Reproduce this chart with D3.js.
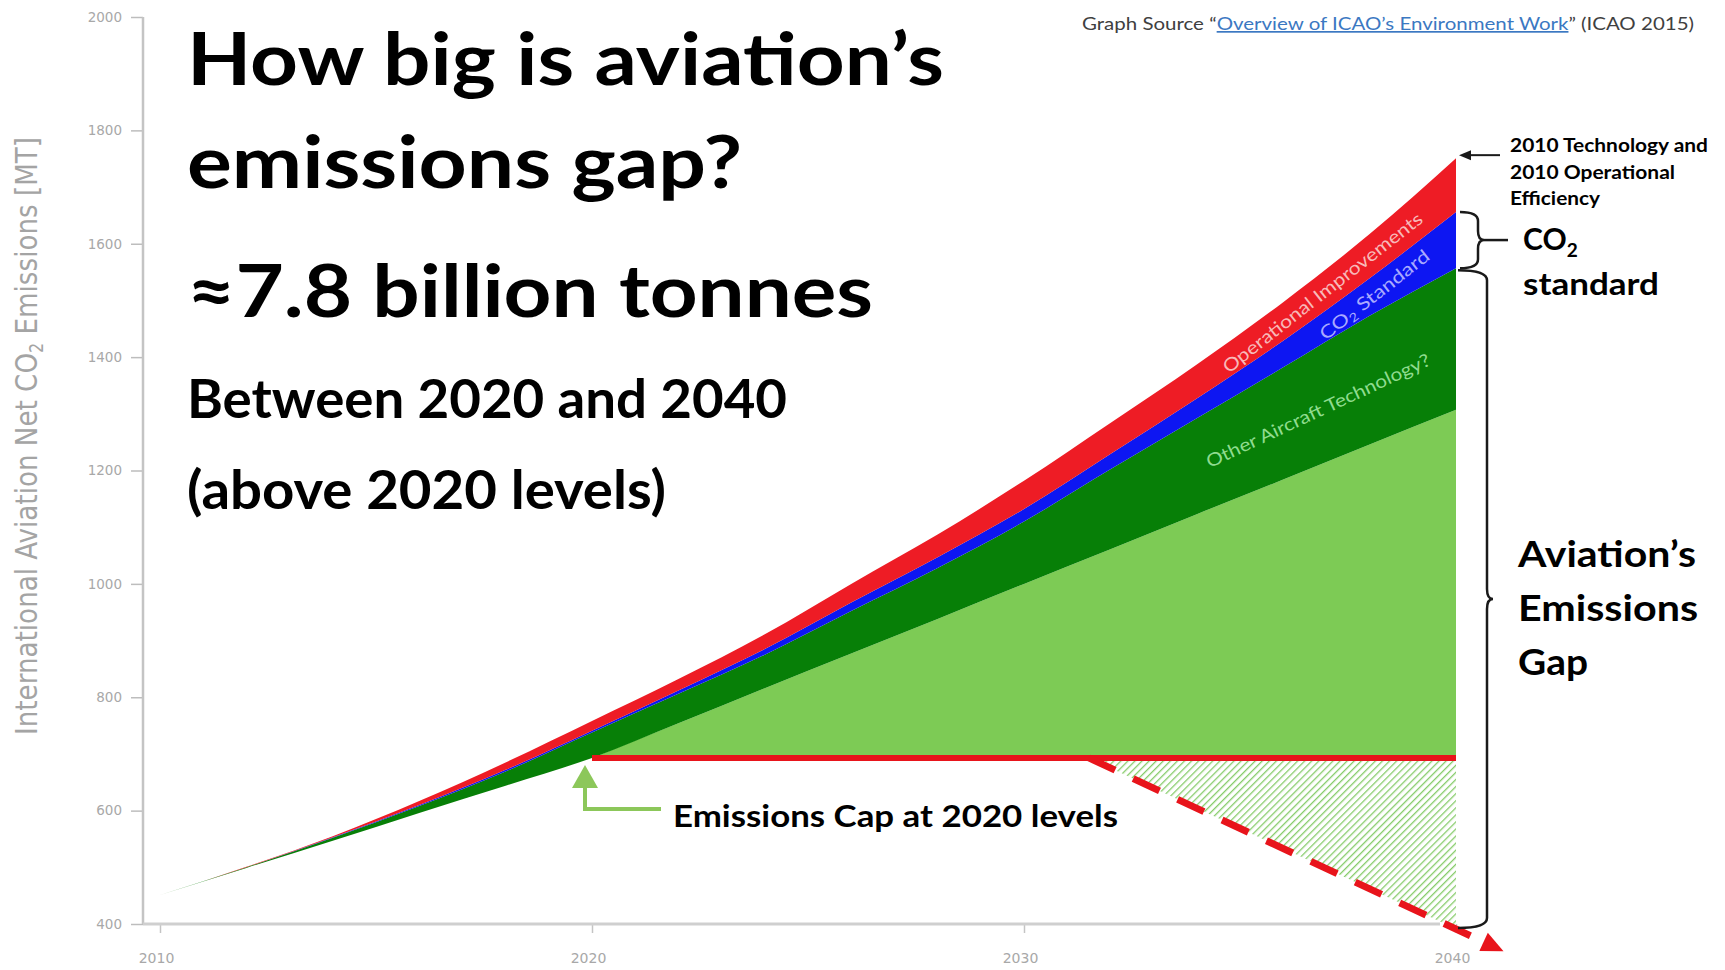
<!DOCTYPE html>
<html><head><meta charset="utf-8">
<script src="https://cdn.jsdelivr.net/npm/d3@7"></script>
<style>
html,body{margin:0;padding:0;background:#fff;}
svg{display:block;}
</style></head>
<body>
<svg id="chart" width="1725" height="970"></svg>
<script>
// ---------- data ----------
const years           = [2010,2012,2014,2016,2018,2020,2022,2024,2026,2028,2030,2032,2034,2036,2038,2040];
const tech2010        = [451, 501, 555, 617, 685, 758, 832, 911, 1000,1087,1182,1284,1387,1497,1617,1751];
const withOperational = [451, 500, 553, 610, 672, 741, 812, 885, 967, 1047,1132,1229,1327,1429,1539,1656];
const withCO2Standard = [451, 500, 552, 608, 669, 738, 806, 875, 952, 1028,1110,1202,1292,1382,1473,1557];
const withOtherTech   = [451, 499, 547, 596, 644, 693, 754, 816, 877, 938, 1000,1061,1123,1184,1246,1307];
const capValue = 693;
const capYears = [2020, 2040];
const pathwayYears  = [2031.5, 2041.1];
const pathwayValues = [693, 352];
const yTicks = [400,600,800,1000,1200,1400,1600,1800,2000];
const xTicks = [2010,2020,2030,2040];

// ---------- setup ----------
const svg = d3.select("#chart");
const x = d3.scaleLinear().domain([2010, 2040]).range([160, 1456]);
const y = d3.scaleLinear().domain([400, 2000]).range([924, 17]);
const fit = (sel, w) => sel.attr("textLength", w).attr("lengthAdjust", "spacingAndGlyphs");

const rows = years.map((yr, i) => ({year: yr, t: tech2010[i], o: withOperational[i], c: withCO2Standard[i], b: withOtherTech[i]}));

const defs = svg.append("defs");
const pat = defs.append("pattern").attr("id", "hatch").attr("width", 5).attr("height", 5)
  .attr("patternUnits", "userSpaceOnUse").attr("patternTransform", "rotate(45)");
pat.append("rect").attr("width", 5).attr("height", 5).attr("fill", "#ffffff");
pat.append("line").attr("x1", 0).attr("y1", 0).attr("x2", 0).attr("y2", 5)
  .attr("stroke", "#86cc6a").attr("stroke-width", 2.6);

// ---------- axes ----------
const yAxis = svg.append("g").attr("transform", "translate(143,0)")
  .call(d3.axisLeft(y).tickValues(yTicks).tickSize(12).tickSizeOuter(0).tickPadding(9).tickFormat(d3.format("d")));
yAxis.select(".domain").remove();
yAxis.selectAll(".tick line").attr("stroke", "#bdbdbd").attr("stroke-width", 1.5);
yAxis.selectAll(".tick text").attr("fill", "#a8a8a8").attr("font-family", "DejaVu Sans, sans-serif").attr("font-size", 13.5);
svg.append("line").attr("x1", 143).attr("x2", 143).attr("y1", y(2000)).attr("y2", y(400))
  .attr("stroke", "#c4c4c4").attr("stroke-width", 2.5);

const xAxis = svg.append("g").attr("transform", "translate(0,924)")
  .call(d3.axisBottom(x).tickValues(xTicks).tickSize(9).tickSizeOuter(0).tickPadding(20).tickFormat(d3.format("d")));
xAxis.select(".domain").remove();
xAxis.selectAll(".tick line").attr("stroke", "#c4c4c4").attr("stroke-width", 1.5);
xAxis.selectAll(".tick text").attr("fill", "#a8a8a8").attr("font-family", "DejaVu Sans, sans-serif").attr("font-size", 14).attr("dx", -4);
svg.append("line").attr("x1", 143).attr("x2", 1440).attr("y1", 924).attr("y2", 924)
  .attr("stroke", "#cfcfcf").attr("stroke-width", 3);

// y title
const yt = svg.append("text").attr("transform", "translate(37,436) rotate(-90)")
  .attr("text-anchor", "middle").attr("fill", "#a4a4a4")
  .attr("font-family", "'Liberation Sans Narrow', 'DejaVu Sans Condensed', sans-serif").attr("font-size", 31);
yt.append("tspan").text("International Aviation Net CO");
yt.append("tspan").attr("font-size", 19).attr("dy", 6).text("2");
yt.append("tspan").attr("dy", -6).text(" Emissions [MT]");
fit(yt, 598);

// ---------- hatched area (below cap, above pathway) ----------
const path = d3.scaleLinear().domain(pathwayYears).range(pathwayValues);
const hatchRows = [pathwayYears[0], 2040].map(yr => ({year: yr, lo: path(yr), hi: capValue}));
svg.append("path").datum(hatchRows)
  .attr("d", d3.area().x(d => x(d.year)).y0(d => y(d.lo)).y1(d => y(d.hi)))
  .attr("fill", "url(#hatch)");

// ---------- stacked areas ----------
const area = (lo, hi) => d3.area().x(d => x(d.year)).y0(d => y(lo(d))).y1(d => y(hi(d))).curve(d3.curveMonotoneX);
svg.append("path").datum(rows.filter(d => d.year >= capYears[0]))
  .attr("d", area(d => capValue, d => d.b)).attr("fill", "#7dcb55");
svg.append("path").datum(rows).attr("d", area(d => d.b, d => d.c)).attr("fill", "#077f07");
svg.append("path").datum(rows).attr("d", area(d => d.c, d => d.o)).attr("fill", "#0d16f2");
svg.append("path").datum(rows).attr("d", area(d => d.o, d => d.t)).attr("fill", "#ee1c25");

// ---------- cap line ----------
svg.append("line").attr("x1", x(capYears[0])).attr("x2", x(capYears[1]))
  .attr("y1", y(capValue)).attr("y2", y(capValue))
  .attr("stroke", "#e8141b").attr("stroke-width", 6);

// ---------- dashed pathway + arrowhead ----------
const p0 = [x(pathwayYears[0]), y(pathwayValues[0])];
const p1 = [x(pathwayYears[1]), y(pathwayValues[1])];
const len = Math.hypot(p1[0] - p0[0], p1[1] - p0[1]);
const ux = (p1[0] - p0[0]) / len, uy = (p1[1] - p0[1]) / len;
const aL = 22, aW = 10;
const base = [p1[0] - ux * aL, p1[1] - uy * aL];
svg.append("line").attr("x1", p0[0]).attr("y1", p0[1]).attr("x2", base[0] - ux * 6).attr("y2", base[1] - uy * 6)
  .attr("stroke", "#e8141b").attr("stroke-width", 7).attr("stroke-dasharray", "29,20");
svg.append("path").attr("d", `M${p1[0]},${p1[1]} L${base[0] - uy * aW},${base[1] + ux * aW} L${base[0] + uy * aW},${base[1] - ux * aW} Z`)
  .attr("fill", "#e8141b");

// ---------- green arrow to cap start ----------
const ax = x(capYears[0]) - 7, ay = y(capValue) + 7;
svg.append("path").attr("d", `M${ax},${ay + 22} L${ax},${ay + 44} L${ax + 76},${ay + 44}`)
  .attr("fill", "none").attr("stroke", "#8cc75a").attr("stroke-width", 4);
svg.append("path").attr("d", `M${ax},${ay} L${ax - 13},${ay + 23} L${ax + 13},${ay + 23} Z`).attr("fill", "#8cc75a");

// ---------- braces ----------
function brace(x0, y0, y1, w, tip, r) {
  const ym = (y0 + y1) / 2, xv = x0 + w;
  return `M${x0},${y0} Q${xv},${y0} ${xv},${y0 + r} L${xv},${ym - r} Q${xv},${ym} ${xv + tip},${ym} ` +
         `Q${xv},${ym} ${xv},${ym + r} L${xv},${y1 - r} Q${xv},${y1} ${x0},${y1}`;
}
const xe = x(2040);
const last = rows[rows.length - 1];
const cy0 = y(last.o), cy1 = y(last.c);
svg.append("path").attr("d", brace(xe + 4, cy0, cy1, 18, 6, 9))
  .attr("fill", "none").attr("stroke", "#1a1a1a").attr("stroke-width", 2.5);
svg.append("line").attr("x1", xe + 28).attr("x2", xe + 52).attr("y1", (cy0 + cy1) / 2).attr("y2", (cy0 + cy1) / 2)
  .attr("stroke", "#1a1a1a").attr("stroke-width", 2.5);
svg.append("path").attr("d", brace(xe + 2, cy1 + 2, y(400) + 4, 29, 6, 10))
  .attr("fill", "none").attr("stroke", "#1a1a1a").attr("stroke-width", 2.5);

// arrow to 2010 technology line
const ty = y(last.t);
svg.append("line").attr("x1", xe + 44).attr("x2", xe + 14).attr("y1", ty - 3).attr("y2", ty - 3)
  .attr("stroke", "#1a1a1a").attr("stroke-width", 2);
svg.append("path").attr("d", `M${xe + 3},${ty - 3} L${xe + 15},${ty - 8} L${xe + 15},${ty + 2} Z`).attr("fill", "#1a1a1a");

// ---------- in-band labels ----------
const bandLabel = (xx, yy, ang, col) => svg.append("text").attr("transform", `translate(${xx},${yy}) rotate(${ang})`)
    .attr("text-anchor", "middle").attr("dominant-baseline", "central")
    .attr("font-family", "Lato, 'Open Sans', sans-serif").attr("font-size", 18).attr("fill", col);
const interp = (key, yr) => d3.scaleLinear().domain(years).range(rows.map(d => d[key]))(yr);
let t1 = bandLabel(x(2036.9), y((interp("t", 2036.9) + interp("o", 2036.9)) / 2), -38, "#f8b9b9");
t1.text("Operational Improvements"); fit(t1, 248);
let t2 = bandLabel(x(2038.1), y((interp("o", 2038.1) + interp("c", 2038.1)) / 2), -38, "#a9a9ff");
t2.append("tspan").text("CO");
t2.append("tspan").attr("font-size", 12).attr("dy", 5).text("2");
t2.append("tspan").attr("dy", -5).text(" Standard");
fit(t2, 134);
let t3 = bandLabel(x(2036.8), y((interp("c", 2036.8) + interp("b", 2036.8)) / 2) + 4, -25, "#8fdc8f");
t3.text("Other Aircraft Technology?"); fit(t3, 245);

// ---------- big titles ----------
const bold = (txt, xx, yy, size, w) => fit(svg.append("text").attr("x", xx).attr("y", yy)
  .attr("font-family", "Lato, 'Open Sans', sans-serif").attr("font-weight", 700)
  .attr("font-size", size).attr("fill", "#000").text(txt), w);
bold("How big is aviation’s", 187, 85, 73, 757);
bold("emissions gap?", 187, 188, 73, 555);
bold("≈7.8 billion tonnes", 187, 317, 73, 686);
bold("Between 2020 and 2040", 187, 418, 54, 600);
bold("(above 2020 levels)", 187, 509, 54, 479);
bold("Emissions Cap at 2020 levels", 673, 827, 30, 445);

// right annotations
bold("2010 Technology and", 1510, 152, 18, 198);
bold("2010 Operational", 1510, 179, 18, 165);
bold("Efficiency", 1510, 205, 18, 90);
const co = svg.append("text").attr("x", 1523).attr("y", 250)
  .attr("font-family", "Lato, 'Open Sans', sans-serif").attr("font-weight", 700).attr("font-size", 30).attr("fill", "#000");
co.append("tspan").text("CO");
co.append("tspan").attr("font-size", 19).attr("dy", 7).text("2");
bold("standard", 1523, 295, 30, 136);
bold("Aviation’s", 1518, 567, 37, 178);
bold("Emissions", 1518, 621, 37, 180);
bold("Gap", 1518, 675, 37, 70);

// source line
const src = svg.append("text").attr("x", 1082).attr("y", 30)
  .attr("font-family", "Lato, 'Open Sans', sans-serif").attr("font-size", 17).attr("fill", "#404040");
src.append("tspan").text("Graph Source “");
src.append("tspan").attr("fill", "#3b78c2").attr("text-decoration", "underline").text("Overview of ICAO’s Environment Work");
src.append("tspan").text("” (ICAO 2015)");
fit(src, 612);
</script>
</body></html>
